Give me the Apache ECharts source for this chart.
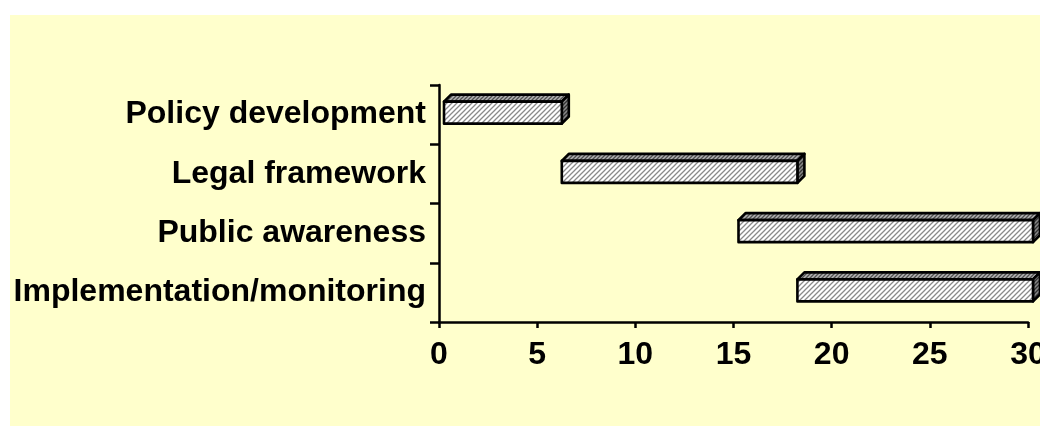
<!DOCTYPE html>
<html>
<head>
<meta charset="utf-8">
<script src="https://cdn.jsdelivr.net/npm/echarts@6/dist/echarts.min.js"></script>
<style>
  html, body { margin: 0; padding: 0; background: #fff; }
  #chart { width: 1040px; height: 426px; }
</style>
</head>
<body>
<div id="chart"></div>
<script>
// Task names (top to bottom) and their start / end values
const tasks = ['Policy development', 'Legal framework', 'Public awareness', 'Implementation/monitoring'];
const startValues = [0, 6, 15, 18];
const endValues = [6, 18, 30, 30];
const xTicks = { min: 0, max: 30, interval: 5 };

// diagonal hatch pattern
function makeHatch(bg, line, period) {
  const c = document.createElement('canvas');
  c.width = period;
  c.height = period;
  const ctx = c.getContext('2d');
  ctx.fillStyle = bg;
  ctx.fillRect(0, 0, period, period);
  ctx.strokeStyle = line;
  ctx.lineWidth = 1.3;
  ctx.beginPath();
  ctx.moveTo(-1, period + 1);
  ctx.lineTo(period + 1, -1);
  ctx.moveTo(-1, 1);
  ctx.lineTo(1, -1);
  ctx.moveTo(period - 1, period + 1);
  ctx.lineTo(period + 1, period - 1);
  ctx.stroke();
  return { image: c, repeat: 'repeat' };
}

const frontFill = makeHatch('#ffffff', '#8a8a8a', 5);
const topFill = makeHatch('#b4b4b4', '#505050', 4);
const sideFill = makeHatch('#888888', '#333333', 4);

const FACE_H = 22;
const DEPTH = 7;
const SHIFT = 5;

function renderBar(params, api) {
  const cat = api.value(0);
  const a = api.coord([api.value(1), cat]);
  const b = api.coord([api.value(2), cat]);
  const x0 = a[0] + SHIFT;
  const x1 = b[0] + SHIFT;
  const yTop = a[1] - 13;
  const yBot = yTop + FACE_H;
  const stroke = { stroke: '#000', lineWidth: 2.6, lineJoin: 'round' };
  return {
    type: 'group',
    children: [
      {
        type: 'polygon',
        shape: { points: [[x0, yTop], [x0 + DEPTH, yTop - DEPTH], [x1 + DEPTH, yTop - DEPTH], [x1, yTop]] },
        style: Object.assign({ fill: topFill }, stroke)
      },
      {
        type: 'polygon',
        shape: { points: [[x1, yTop], [x1 + DEPTH, yTop - DEPTH], [x1 + DEPTH, yBot - DEPTH], [x1, yBot]] },
        style: Object.assign({ fill: sideFill }, stroke)
      },
      {
        type: 'rect',
        shape: { x: x0, y: yTop, width: x1 - x0, height: FACE_H },
        style: Object.assign({ fill: frontFill }, stroke)
      }
    ]
  };
}

const chart = echarts.init(document.getElementById('chart'), null, { renderer: 'canvas' });

const labelFont = {
  color: '#000',
  fontFamily: 'Liberation Sans, Arial, sans-serif',
  fontWeight: 'bold',
  fontSize: 32
};

chart.setOption({
  animation: false,
  backgroundColor: '#ffffff',
  graphic: [
    {
      type: 'rect',
      z: -10,
      shape: { x: 10, y: 15, width: 1030, height: 411 },
      style: { fill: '#ffffcc' }
    }
  ],
  grid: { left: 439, right: 12, top: 85, bottom: 104, containLabel: false, outerBoundsMode: 'none' },
  xAxis: {
    type: 'value',
    min: xTicks.min,
    max: xTicks.max,
    interval: xTicks.interval,
    splitLine: { show: false },
    axisLine: { show: true, lineStyle: { color: '#000', width: 2.5 } },
    axisTick: { show: true, length: 6, lineStyle: { color: '#000', width: 2.5 } },
    axisLabel: Object.assign({ margin: 17, hideOverlap: false }, labelFont)
  },
  yAxis: {
    type: 'category',
    data: tasks,
    inverse: true,
    axisLine: { show: true, lineStyle: { color: '#000', width: 2.5 } },
    axisTick: { show: true, length: 9, lineStyle: { color: '#000', width: 2.5 } },
    axisLabel: Object.assign({ margin: 13 }, labelFont)
  },
  series: [
    {
      type: 'custom',
      renderItem: renderBar,
      encode: { x: [1, 2], y: 0 },
      data: tasks.map((t, i) => [i, startValues[i], endValues[i]]),
      clip: false
    }
  ]
});
</script>
</body>
</html>
